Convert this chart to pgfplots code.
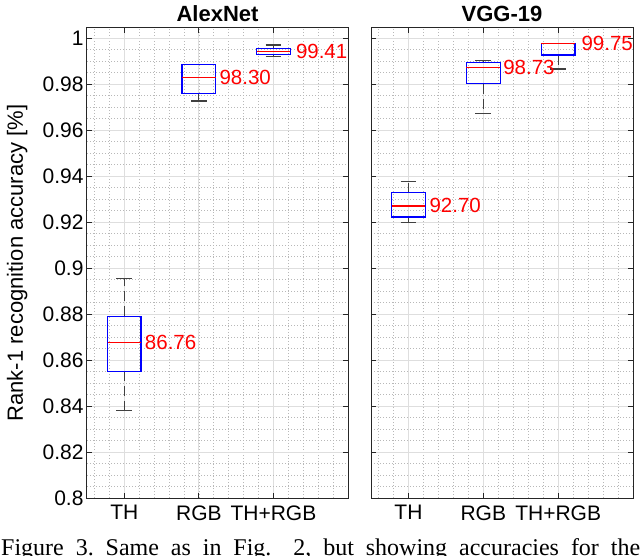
\documentclass[border=0pt]{standalone}
\usepackage{fontspec}
\setmainfont{Liberation Sans}
\newfontfamily\captionserif{Liberation Serif}
\usepackage{pgfplots}
\pgfplotsset{compat=1.18}
\usepgfplotslibrary{statistics}

\pgfplotsset{
  mlaxis/.style={
    scale only axis, height=470pt,
    xmin=0.5, xmax=4, ymin=0.8, ymax=1.00435,
    xtick={1,2,3}, xticklabels={TH,RGB,TH+RGB},
    ytick={0.8,0.82,0.84,0.86,0.88,0.9,0.92,0.94,0.96,0.98,1},
    minor xtick={0.6,0.8,...,4},
    minor ytick={0.805,0.81,...,1.001},
    grid=both,
    major grid style={black!13, line width=0.8pt},
    minor grid style={black!28, line width=0.6pt, dash pattern=on 1pt off 2pt},
    tick align=inside, major tick length=5pt, minor tick length=0pt,
    axis line style={black!85, line width=1pt},
    every tick/.style={black!85, line width=1pt},
    tick label style={font=\fontsize{21}{25}\selectfont},
    xticklabel style={yshift=-4pt},
    /pgf/number format/assume math mode=true,
    title style={font=\bfseries\fontsize{22}{26}\selectfont, yshift=-3pt},
    boxplot/draw direction=y,
    boxplot/box extend=0.45,
    boxplot/whisker extend=0.21,
    boxplot/every median/.style={red, line width=1.2pt},
    boxplot/draw/lower whisker/.code={%
      \draw[black!75, line width=1pt, dash pattern=on 10pt off 5pt]
        (boxplot cs:\pgfplotsboxplotvalue{lower quartile}) -- (boxplot cs:\pgfplotsboxplotvalue{lower whisker});
      \draw[black!75, line width=1.2pt]
        (boxplot whisker cs:\pgfplotsboxplotvalue{lower whisker},0) -- (boxplot whisker cs:\pgfplotsboxplotvalue{lower whisker},1);
    },
    boxplot/draw/upper whisker/.code={%
      \draw[black!75, line width=1pt, dash pattern=on 10pt off 5pt]
        (boxplot cs:\pgfplotsboxplotvalue{upper quartile}) -- (boxplot cs:\pgfplotsboxplotvalue{upper whisker});
      \draw[black!75, line width=1.2pt]
        (boxplot whisker cs:\pgfplotsboxplotvalue{upper whisker},0) -- (boxplot whisker cs:\pgfplotsboxplotvalue{upper whisker},1);
    },
  },
  noupper/.style={boxplot/draw/upper whisker/.code={}},
  mlbox/.style={blue, line width=1.2pt},
  medlabels/.style={draw=none, nodes near coords, point meta=explicit symbolic,
    nodes near coords style={anchor=west, inner sep=0pt, text=red, font=\fontsize{20.5}{24}\selectfont}},
}

\begin{document}
\begin{tikzpicture}
% AlexNet
\begin{axis}[mlaxis, at={(87pt,-498pt)}, anchor=south west, width=261pt,
  title={AlexNet},
  ylabel={Rank-1 recognition accuracy [\%]},
  every axis y label/.style={at={([xshift=-56pt]axis description cs:0,0.5)}, rotate=90, anchor=south,
    font=\fontsize{22}{26}\selectfont}]
  \addplot[mlbox, boxplot prepared={draw position=1, lower whisker=0.8381, lower quartile=0.8551,
    median=0.8676, upper quartile=0.8790, upper whisker=0.8955}] coordinates {};
  \addplot[mlbox, noupper, boxplot prepared={draw position=2, lower whisker=0.9726, lower quartile=0.9759,
    median=0.9830, upper quartile=0.9886, upper whisker=0.9886}] coordinates {};
  \addplot[mlbox, boxplot prepared={draw position=3, lower whisker=0.9920, lower quartile=0.99275,
    median=0.9941, upper quartile=0.99536, upper whisker=0.9970}] coordinates {};
  \addplot[medlabels] table[meta=lab] {
    x     y       lab
    1.275 0.8676  86.76
    2.275 0.9830  98.30
    3.30  0.9941  99.41
  };
\end{axis}
% VGG-19
\begin{axis}[mlaxis, at={(371pt,-498pt)}, anchor=south west, width=262pt,
  title={VGG-19}, yticklabels={}]
  \addplot[mlbox, boxplot prepared={draw position=1, lower whisker=0.9199, lower quartile=0.9222,
    median=0.9270, upper quartile=0.9327, upper whisker=0.9377}] coordinates {};
  \addplot[mlbox, boxplot prepared={draw position=2, lower whisker=0.9671, lower quartile=0.9801,
    median=0.9873, upper quartile=0.9893, upper whisker=0.9901}] coordinates {};
  \addplot[mlbox, noupper, boxplot prepared={draw position=3, lower whisker=0.9865, lower quartile=0.9926,
    median=0.9975, upper quartile=0.9975, upper whisker=0.9975}] coordinates {};
  \addplot[medlabels] table[meta=lab] {
    x     y       lab
    1.28  0.9270  92.70
    2.265 0.9873  98.73
    3.31  0.9975  99.75
  };
\end{axis}
\node[anchor=base west, inner sep=0pt, font=\captionserif\fontsize{24}{28}\selectfont]
  at (1pt,-555pt) {\frenchspacing\makebox[639pt][s]{Figure 3. Same as in Fig.\hspace{10pt} 2, but showing accuracies for the}};
\pgfresetboundingbox
\useasboundingbox (0,0) rectangle (640pt,-556pt);
\end{tikzpicture}
\end{document}
